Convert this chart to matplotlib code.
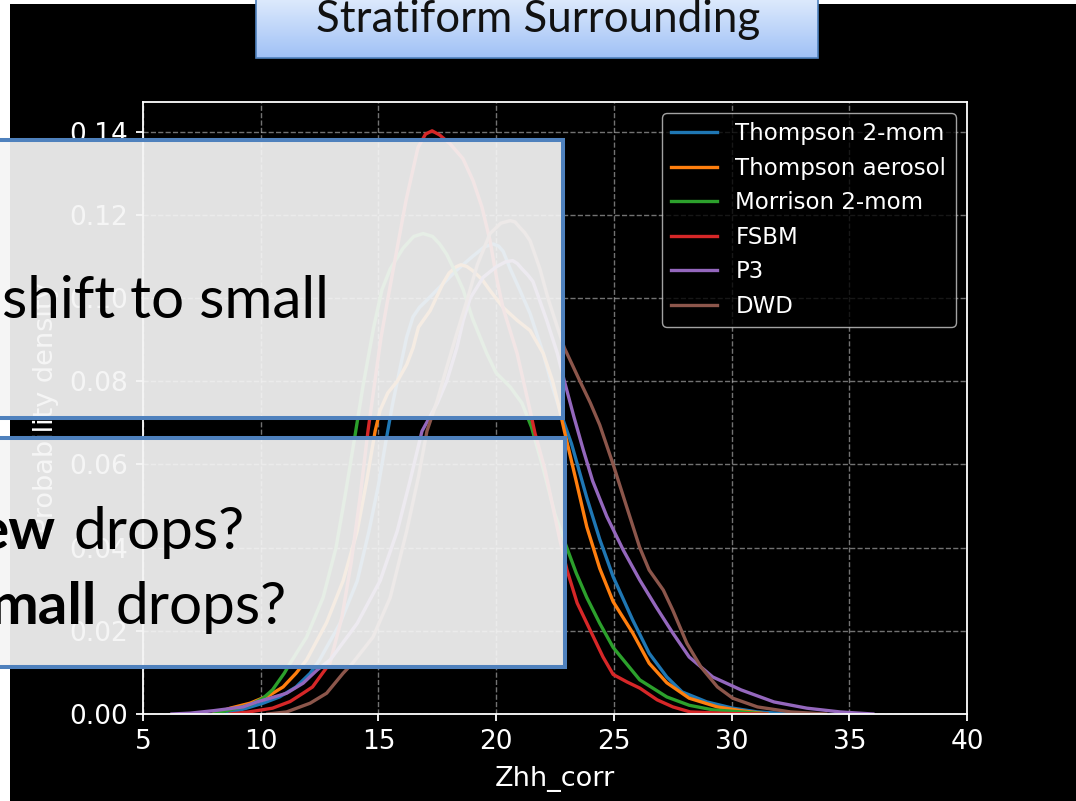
import numpy as np
import matplotlib.pyplot as plt
from matplotlib.patches import Rectangle

W, H = 1076, 801

# ---- data (Zhh_corr in dBZ, probability density) ----
thompson2_x = [8.5, 9.4, 10.1, 10.8, 11.5, 12.1, 12.5, 13.37, 14.1, 14.6, 15.0, 15.3, 15.6, 15.9,
               16.2, 16.47, 16.75, 17.06, 17.6, 18.3, 19.0, 19.5, 19.87, 20.1, 20.3, 20.6, 21.0,
               21.44, 22.0, 22.4, 22.85, 23.2, 23.85, 24.4, 24.97, 25.8, 26.5, 27.25, 27.9, 28.95,
               30.05, 31.1, 32.5]
thompson2_y = [0.0, 0.0014, 0.0026, 0.0041, 0.0065, 0.0098, 0.013, 0.0218, 0.032, 0.044, 0.055,
               0.065, 0.0745, 0.0826, 0.0906, 0.0955, 0.0978, 0.0995, 0.1026, 0.1066, 0.110, 0.1123,
               0.113, 0.1125, 0.1112, 0.107, 0.102, 0.0963, 0.0867, 0.0785, 0.0706, 0.065, 0.052,
               0.042, 0.033, 0.0226, 0.0146, 0.0089, 0.0053, 0.0029, 0.0014, 0.0005, 0.0]

aerosol_x = [8.0, 8.7, 9.55, 10.4, 10.95, 11.5, 11.95, 12.8, 13.5, 14.1, 14.5, 14.86, 15.07, 15.4,
             15.8, 16.2, 16.47, 16.7, 17.2, 17.74, 18.0, 18.3, 18.5, 18.75, 19.0, 19.4, 19.74, 20.3,
             20.9, 21.44, 22.0, 22.4, 22.7, 22.9, 23.4, 23.85, 24.4, 24.97, 25.8, 26.5, 27.25,
             28.2, 29.4, 30.4, 31.5]
aerosol_y = [0.0, 0.0014, 0.0026, 0.0046, 0.0065, 0.0098, 0.013, 0.022, 0.032, 0.044, 0.056, 0.068,
             0.073, 0.0772, 0.080, 0.084, 0.088, 0.093, 0.097, 0.1035, 0.106, 0.1075, 0.108, 0.1076,
             0.1066, 0.1045, 0.1018, 0.0977, 0.0946, 0.0922, 0.0867, 0.080, 0.073, 0.068, 0.056,
             0.045, 0.035, 0.027, 0.0195, 0.0122, 0.0075, 0.0038, 0.0017, 0.0008, 0.0]

morrison_x = [8.0, 8.7, 9.55, 10.1, 10.5, 11.0, 11.25, 11.95, 12.65, 13.2, 13.6, 13.95, 14.35, 14.8,
              15.15, 15.5, 16.05, 16.5, 16.9, 17.3, 17.6, 17.9, 18.2, 18.6, 19.0, 19.6, 20.0, 20.6,
              21.1, 21.5, 22.0, 22.5, 23.0, 23.4, 23.85, 24.4, 24.97, 26.1, 27.25, 28.2, 29.2,
              30.4, 31.5]
morrison_y = [0.0, 0.001, 0.0022, 0.0038, 0.0058, 0.0098, 0.0122, 0.0185, 0.028, 0.040, 0.053,
              0.065, 0.079, 0.093, 0.102, 0.107, 0.112, 0.1148, 0.1155, 0.1148, 0.113, 0.1105,
              0.107, 0.102, 0.095, 0.0867, 0.082, 0.0786, 0.0747, 0.069, 0.059, 0.048, 0.040,
              0.0339, 0.028, 0.0218, 0.016, 0.0082, 0.0041, 0.0021, 0.001, 0.0005, 0.0]

fsbm_x = [8.7, 9.5, 10.5, 11.25, 11.8, 12.2, 12.65, 12.94, 13.45, 13.84, 14.22, 14.56, 15.11, 15.41,
          15.62, 16.17, 16.68, 17.0, 17.28, 17.6, 18.04, 18.59, 19.02, 19.4, 19.74, 20.04, 20.29,
          20.89, 21.44, 21.65, 22.08, 22.71, 23.01, 23.44, 23.99, 24.54, 24.97, 25.56, 26.11,
          26.84, 27.51, 28.24, 30.0, 31.5]
fsbm_y = [0.0, 0.0005, 0.0014, 0.003, 0.005, 0.0065, 0.010, 0.0122, 0.0233, 0.0363, 0.0521, 0.0682,
          0.0905, 0.1001, 0.1066, 0.1234, 0.1362, 0.1394, 0.1402, 0.1392, 0.1371, 0.1335, 0.1282,
          0.1218, 0.1138, 0.1042, 0.0977, 0.0867, 0.0730, 0.0675, 0.0586, 0.0418, 0.0346, 0.0267,
          0.0202, 0.0137, 0.0095, 0.0077, 0.0062, 0.0034, 0.0017, 0.0005, 0.0001, 0.0]

p3_x = [6.23, 7.0, 8.0, 9.25, 9.84, 10.4, 11.1, 11.8, 12.4, 12.95, 14.1, 15.07, 15.8, 16.34, 16.85,
        17.5, 17.9, 18.33, 18.6, 18.9, 19.45, 20.0, 20.4, 20.7, 20.9, 21.1, 21.35, 21.56, 21.7,
        22.15, 22.6, 22.9, 23.3, 23.7, 24.1, 24.7, 25.4, 26.1, 26.8, 27.5, 28.2, 29.2, 30.4,
        31.8, 33.2, 34.6, 36.0]
p3_y = [0.0, 0.0002, 0.0008, 0.0017, 0.0029, 0.0038, 0.005, 0.0074, 0.0106, 0.013, 0.0218, 0.032,
        0.044, 0.056, 0.068, 0.0747, 0.080, 0.088, 0.0946, 0.100, 0.105, 0.1075, 0.1087, 0.109,
        0.1083, 0.107, 0.1055, 0.104, 0.1018, 0.0946, 0.0867, 0.080, 0.0715, 0.0635, 0.056,
        0.0475, 0.0394, 0.0322, 0.0257, 0.0195, 0.0137, 0.0089, 0.0058, 0.0029, 0.0014,
        0.0005, 0.0]

dwd_x = [10.3, 11.1, 12.1, 12.8, 13.5, 13.9, 14.77, 15.5, 16.2, 16.7, 17.06, 17.5, 17.9, 18.33,
         18.76, 19.2, 19.74, 20.2, 20.6, 20.8, 21.0, 21.2, 21.44, 21.86, 22.2, 22.6, 22.9, 23.56,
         24.0, 24.4, 24.97, 25.55, 26.1, 26.5, 27.1, 27.5, 28.1, 28.7, 29.4, 30.05, 31.1, 32.5,
         34.0]
dwd_y = [0.0, 0.0005, 0.0026, 0.005, 0.0098, 0.0122, 0.0185, 0.028, 0.044, 0.057, 0.068, 0.0754,
         0.0833, 0.0915, 0.0994, 0.108, 0.1155, 0.118, 0.1186, 0.1183, 0.117, 0.1158, 0.1138,
         0.107, 0.100, 0.093, 0.088, 0.080, 0.0748, 0.0695, 0.060, 0.0497, 0.040, 0.0346,
         0.0298, 0.025, 0.017, 0.0113, 0.0065, 0.0038, 0.0017, 0.0005, 0.0]

names = ['Thompson 2-mom', 'Thompson aerosol', 'Morrison 2-mom', 'FSBM', 'P3', 'DWD']
xs_all = [thompson2_x, aerosol_x, morrison_x, fsbm_x, p3_x, dwd_x]
ys_all = [thompson2_y, aerosol_y, morrison_y, fsbm_y, p3_y, dwd_y]
colors = ['#1f77b4', '#ff7f0e', '#2ca02c', '#d62728', '#9467bd', '#8c564b']

title_text = 'Stratiform Surrounding'
box1_text = 'shift to small'
box2_lines = [('ew', 'drops?'), ('mall', 'drops?')]

TICK_FS = 19
LABEL_FS = 19.5
LEG_FS = 16.5

plt.style.use('dark_background')
fig = plt.figure(figsize=(W / 100, H / 100), dpi=100, facecolor='white')


def fx(px):
    return px / W


def fy(py):
    return 1 - py / H


# black picture area on the white slide
fig.add_artist(Rectangle((fx(10), 0), 1 - fx(10), fy(4), transform=fig.transFigure,
                         facecolor='black', edgecolor='none', zorder=-5))

ax = fig.add_axes([fx(143), fy(714), fx(967) - fx(143), fy(101.7) - fy(714)])
ax.set_facecolor('black')
for name, xs, ys, c in zip(names, xs_all, ys_all, colors):
    ax.plot(xs, ys, color=c, lw=2.4, label=name, solid_joinstyle='round')
ax.set_xlim(5, 40)
ax.set_ylim(0, 0.1472)
ax.set_yticks(np.arange(0, 0.141, 0.02))
ax.set_xlabel('Zhh_corr', fontsize=LABEL_FS, labelpad=8)
ax.set_ylabel('Probability density', fontsize=LABEL_FS, labelpad=7)
ax.tick_params(labelsize=TICK_FS, length=5, width=1.3, colors='white', pad=6)
for sp in ax.spines.values():
    sp.set_linewidth(1.3)
ax.grid(True, linestyle='--', color='white', alpha=0.45, lw=1.0)
ax.legend(loc='upper right', fontsize=LEG_FS)

# ---- slide overlay ----
ov = fig.add_axes([0, 0, 1, 1], zorder=10)
ov.axis('off')

grad = np.linspace(0, 1, 64)[:, None, None]
top_c = np.array([226, 237, 253]) / 255
bot_c = np.array([160, 193, 246]) / 255
img = top_c * (1 - grad) + bot_c * grad
ov.imshow(img, extent=[256, 818, 58, -6], aspect='auto', interpolation='bilinear', zorder=1)
ov.add_patch(Rectangle((256, -6), 562, 64, facecolor='none', edgecolor='#4f81bd', lw=1.2, zorder=2))

for (x0, y0, x1, y1) in [(-20, 140, 563, 418), (-20, 438, 565, 667)]:
    ov.add_patch(Rectangle((x0, y0), x1 - x0, y1 - y0, facecolor=(0.96, 0.96, 0.96, 0.93),
                           edgecolor='#4f81bd', lw=2.9, zorder=3))

ov.set_xlim(0, W)
ov.set_ylim(H, 0)

renderer = fig.canvas.get_renderer()


def fit(t, width):
    bb = t.get_window_extent(renderer)
    t.set_fontsize(t.get_fontsize() * width / bb.width)


tt = ov.text(538, 32, title_text, ha='center', va='baseline', fontsize=28,
             family='Lato', color='#111111', zorder=5)
fit(tt, 444)

t1 = ov.text(2, 318, box1_text, ha='left', va='baseline', fontsize=40,
             family='Lato', color='black', zorder=5)
fit(t1, 327)
body = t1.get_fontsize()

for (bold, rest), yb, xb, xr in zip(box2_lines, [549, 624], [55, 97], [74, 115]):
    ov.text(xb, yb, bold, ha='right', va='baseline', fontsize=body, family='Lato',
            weight='bold', color='black', zorder=5)
    ov.text(xr, yb, rest, ha='left', va='baseline', fontsize=body, family='Lato',
            color='black', zorder=5)

fig.savefig('out.png', dpi=100, facecolor='white')
